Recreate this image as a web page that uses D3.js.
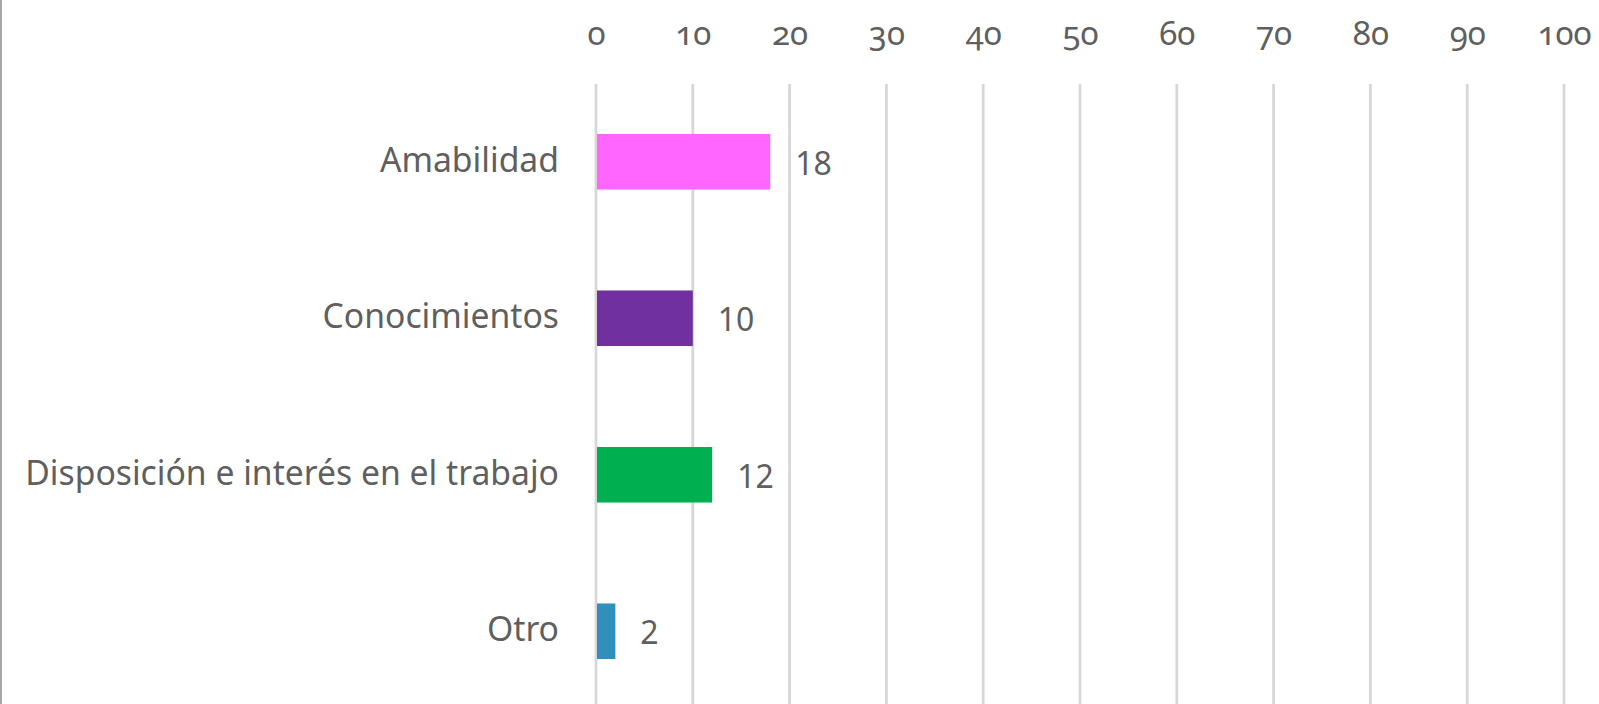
<!DOCTYPE html>
<html>
<head>
<meta charset="utf-8">
<script src="https://cdn.jsdelivr.net/npm/d3@7"></script>
<style>
  html, body { margin: 0; padding: 0; background: #ffffff; }
  svg { display: block; }
  text { font-family: "Noto Sans", "Open Sans", sans-serif; fill: #5f5f5f; font-weight: 400; }
  .tick-label { font-variant-numeric: oldstyle-nums; font-feature-settings: "onum" 1; }
</style>
</head>
<body>
<svg id="chart" width="1599" height="704"></svg>
<script>
// ---- data ----
const categories = ["Amabilidad", "Conocimientos", "Disposición e interés en el trabajo", "Otro"];
const values = [18, 10, 12, 2];
const barColors = ["#FF66FF", "#7030A0", "#00B050", "#318FBC"];
const tickValues = [0, 10, 20, 30, 40, 50, 60, 70, 80, 90, 100];

// ---- layout ----
const W = 1599, H = 704;
const svg = d3.select("#chart");

const x = d3.scaleLinear().domain([0, 100]).range([596, 1564]);
const y = d3.scaleBand().domain(categories).range([83.5, 709.5])
  .paddingInner(0.645).paddingOuter(0.3225);

// left border
svg.append("line")
  .attr("x1", 1).attr("x2", 1).attr("y1", 0).attr("y2", H)
  .attr("stroke", "#8a8a8a").attr("stroke-width", 1.5);

// gridlines
svg.append("g").selectAll("line").data(tickValues).join("line")
  .attr("x1", d => x(d)).attr("x2", d => x(d))
  .attr("y1", 84).attr("y2", H)
  .attr("stroke", "#d6d6d6").attr("stroke-width", 2.7);

// top axis labels
const axis = d3.axisTop(x).tickValues(tickValues).tickSize(0).tickFormat(d3.format("d"));
const gAxis = svg.append("g").attr("transform", "translate(0,44.5)").call(axis);
gAxis.select(".domain").remove();
gAxis.selectAll("text")
  .attr("class", "tick-label")
  .attr("y", 0).attr("dy", 0)
  .style("font-size", "33px")
  .style("font-family", "'Noto Sans', 'Open Sans', sans-serif")
  .attr("fill", "#5f5f5f");

// bars
svg.append("g").selectAll("rect").data(categories).join("rect")
  .attr("x", x(0) + 1)
  .attr("y", d => y(d))
  .attr("width", (d, i) => x(values[i]) - x(0) - 1)
  .attr("height", y.bandwidth())
  .attr("fill", (d, i) => barColors[i]);

// category labels
svg.append("g").selectAll("text").data(categories).join("text")
  .attr("x", 559)
  .attr("y", d => y(d) + y.bandwidth() / 2 + 10)
  .attr("text-anchor", "end")
  .style("font-size", "33.7px")
  .text(d => d);

// value labels
svg.append("g").selectAll("text").data(categories).join("text")
  .attr("x", (d, i) => x(values[i]) + 25)
  .attr("y", d => y(d) + y.bandwidth() / 2 + 13)
  .attr("text-anchor", "start")
  .style("font-size", "32px")
  .text((d, i) => values[i]);
</script>
</body>
</html>
